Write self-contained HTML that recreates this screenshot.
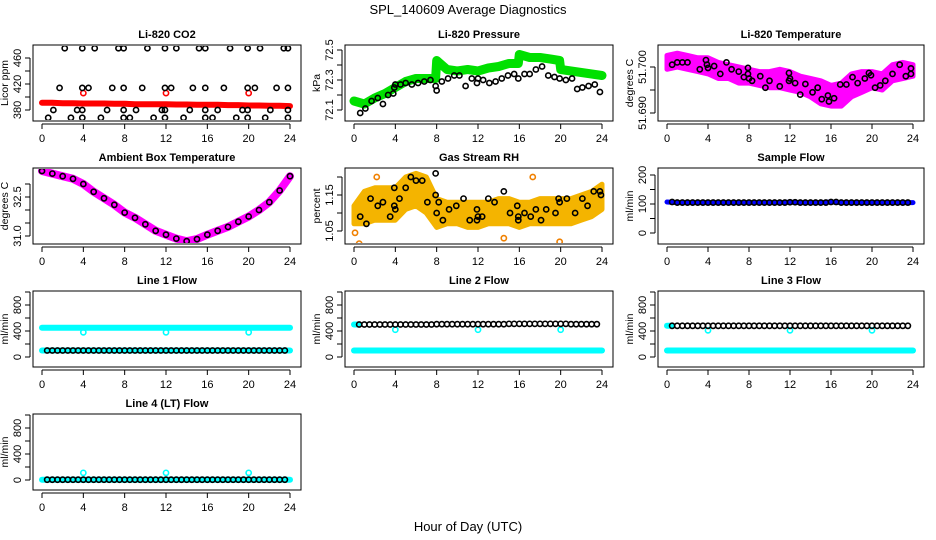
<!DOCTYPE html>
<html><head><meta charset="utf-8"><style>
html,body{margin:0;padding:0;background:#fff;}
svg{display:block;font-family:"Liberation Sans",sans-serif;}
</style></head><body>
<svg id="c" width="936" height="540" viewBox="0 0 936 540" xmlns="http://www.w3.org/2000/svg">
<text x="468" y="14" text-anchor="middle" font-size="13">SPL_140609  Average Diagnostics</text>
<text x="468" y="531" text-anchor="middle" font-size="13">Hour of Day (UTC)</text>
</svg>
<script>
// ---------- data ----------
const hourTicks = [0,4,8,12,16,20,24];
const hours = [0,1,2,3,4,5,6,7,8,9,10,11,12,13,14,15,16,17,18,19,20,21,22,23,24];
// CO2
const co2RedLine = [391,391,390.5,390.5,390,390,390,389.5,389.5,389,389,389,389,388.5,388.5,388,388,388,387.5,387.5,387,387,386.5,386.5,386];
const co2RedOutHours = [4,12,20];
const co2RedOutVals = [406,406,406];
const co2BlackHours = [2.2,3.9,5.1,7.4,7.9,10.2,11.9,13,15.2,15.8,18.2,19.9,21.1,23.4,23.8,
 1.7,3.9,4.5,6.8,7.9,9.7,11.9,12.5,14.6,15.8,17.6,19.9,20.6,22.7,23.8,
 1.1,3.4,3.9,6.3,7.9,9.1,11.6,11.9,14.3,15.8,17.0,19.4,19.9,22.1,23.8,
 0.6,2.8,3.9,5.7,7.9,8.5,10.8,11.9,13.7,15.8,16.5,18.8,19.9,21.6,23.8];
const co2BlackVals = [475,475,475,475,475,475,475,475,475,475,475,475,475,475,475,
 414,414,414,414,414,414,414,414,414,414,414,414,414,414,414,
 380,380,380,380,380,380,380,380,380,380,380,380,380,380,380,
 368,368,368,368,368,368,368,368,368,368,368,368,368,368,368];
// Pressure
const presGreenHours = [0,1,2,3,4,5,6,7,7.9,8,9,10,11,12,13,14,15,15.9,16,17,18,19,19.9,20,21,22,23,24];
const presGreenVals = [72.16,72.14,72.18,72.21,72.25,72.29,72.31,72.31,72.31,72.43,72.37,72.36,72.37,72.36,72.38,72.39,72.41,72.41,72.47,72.45,72.45,72.44,72.43,72.37,72.36,72.35,72.34,72.33];
const presBlackHours = [0.6,1.1,1.7,2.3,2.8,3.3,3.8,3.9,4.0,4.5,5.0,5.6,6.2,6.8,7.4,7.9,8.0,8.5,9.1,9.7,10.2,10.8,11.4,11.9,12.0,12.5,13.1,13.7,14.3,14.9,15.5,15.9,16.5,17.0,17.6,18.2,18.8,19.4,19.9,20.5,21.1,21.6,22.1,22.7,23.3,23.8];
const presBlackVals = [72.08,72.11,72.16,72.18,72.14,72.2,72.21,72.25,72.27,72.27,72.28,72.27,72.28,72.29,72.3,72.26,72.23,72.29,72.31,72.33,72.33,72.26,72.31,72.28,72.31,72.3,72.28,72.29,72.31,72.33,72.34,72.31,72.34,72.34,72.37,72.39,72.33,72.32,72.31,72.3,72.31,72.24,72.25,72.26,72.27,72.22];
// Li-820 temperature
const tempUpper = [51.7025,51.703,51.7025,51.702,51.702,51.701,51.7005,51.7,51.6995,51.699,51.699,51.6995,51.699,51.698,51.6975,51.697,51.696,51.6965,51.6985,51.699,51.699,51.6985,51.7005,51.701,51.7005];
const tempLower = [51.6995,51.7,51.6995,51.699,51.6985,51.6975,51.6975,51.6965,51.6965,51.696,51.6955,51.6955,51.695,51.6945,51.6935,51.692,51.6915,51.6915,51.6935,51.6945,51.6955,51.695,51.697,51.6975,51.698];
const tempBlackHours = [0.5,1,1.5,2,3.2,3.8,3.9,4.0,4.6,5.2,5.8,6.3,7.0,7.5,7.9,7.9,8.0,8.3,9.1,9.6,10.0,11.0,11.9,12.0,11.9,12.5,13.0,13.5,14.2,14.7,15.1,15.7,15.8,16.3,16.9,17.5,18.1,18.6,19.3,19.7,19.9,20.3,20.8,21.3,22.0,22.7,23.3,23.8,23.8];
const tempBlackVals = [51.7005,51.701,51.701,51.701,51.6995,51.7015,51.7005,51.6998,51.7002,51.6985,51.701,51.6995,51.699,51.6978,51.6985,51.6998,51.6975,51.697,51.698,51.6955,51.697,51.6958,51.6987,51.6975,51.697,51.6965,51.694,51.6963,51.6945,51.6955,51.693,51.6938,51.6925,51.6932,51.6962,51.6962,51.6978,51.6965,51.6975,51.6987,51.6982,51.6955,51.696,51.697,51.6985,51.7005,51.698,51.6997,51.6985];
// Ambient box temperature
const ambVals = [33.5,33.4,33.3,33.2,33.0,32.7,32.45,32.2,31.9,31.7,31.45,31.2,31.05,30.9,30.8,30.88,31.05,31.2,31.35,31.55,31.75,32.0,32.3,32.75,33.3];
// Gas stream RH
const rhUpper = [1.12,1.16,1.17,1.17,1.17,1.2,1.21,1.2,1.14,1.13,1.13,1.13,1.13,1.13,1.14,1.14,1.13,1.13,1.14,1.14,1.14,1.14,1.15,1.16,1.18];
const rhLower = [1.07,1.07,1.08,1.08,1.08,1.11,1.12,1.1,1.06,1.07,1.07,1.06,1.06,1.07,1.07,1.07,1.06,1.07,1.07,1.07,1.07,1.07,1.08,1.09,1.11];
const rhBlackHours = [0.6,1.2,1.6,2.3,2.8,3.5,3.9,3.9,4.0,4.4,5.0,5.5,6.0,6.6,7.1,7.9,7.9,8.0,8.2,8.6,9.2,9.9,10.6,11.2,11.9,11.9,12.0,12.4,13.0,13.6,14.5,15.1,15.8,15.9,15.9,16.5,17.1,17.6,18.1,18.6,19.5,19.8,19.9,20.6,21.4,22.1,22.6,23.2,23.8,23.9];
const rhBlackVals = [1.09,1.07,1.14,1.12,1.13,1.09,1.17,1.12,1.11,1.14,1.17,1.2,1.19,1.19,1.13,1.21,1.15,1.1,1.13,1.08,1.11,1.12,1.14,1.08,1.11,1.08,1.09,1.09,1.14,1.13,1.16,1.1,1.12,1.09,1.08,1.1,1.09,1.11,1.08,1.11,1.1,1.14,1.13,1.14,1.1,1.14,1.12,1.16,1.16,1.15];
const rhOutHours = [0.1,0.5,2.2,14.5,17.3,19.9];
const rhOutVals = [1.045,1.015,1.2,1.03,1.2,1.02];
// Flows
const sampleFlow = [107,105,105,105,105,105,105,105,105,105,105,105,106,105,105,105,107,105,105,105,105,105,105,105,105];
const line1Cyan = [450,450,450,450,450,450,450,450,450,450,450,450,450,450,450,450,450,450,450,450,450,450,450,450,450];
const line1Black = [100,100,100,100,100,100,100,100,100,100,100,100,100,100,100,100,100,100,100,100,100,100,100,100,100];
const line2Cyan = [100,100,100,100,100,100,100,100,100,100,100,100,100,100,100,100,100,100,100,100,100,100,100,100,100];
const line2Black = [500,500,500,500,500,500,500,500,505,505,505,505,505,505,505,510,510,510,510,510,510,505,505,505,505];
const line3Cyan = [100,100,100,100,100,100,100,100,100,100,100,100,100,100,100,100,100,100,100,100,100,100,100,100,100];
const line3Black = [480,480,480,480,480,480,480,480,480,480,480,480,480,480,480,480,480,480,480,480,480,480,480,480,480];
const line4Cyan = [5,5,5,5,5,5,5,5,5,5,5,5,5,5,5,5,5,5,5,5,5,5,5,5,5];
const line4Black = [5,5,5,5,5,5,5,5,5,5,5,5,5,5,5,5,5,5,5,5,5,5,5,5,5];
const flowOutHours = [4,12,20];
const line1Out = [380,380,380];
const line2Out = [420,420,420];
const line3Out = [410,410,410];
const line4Out = [110,110,110];

// ---------- drawing ----------
const NS = "http://www.w3.org/2000/svg";
const svg = document.getElementById('c');
const colL = [33,345,658], colR = [301,613,924];
const rowT = [45,168,291,414];
function el(tag, attrs, parent){
  const e = document.createElementNS(NS, tag);
  for (const k in attrs) e.setAttribute(k, attrs[k]);
  (parent||svg).appendChild(e);
  return e;
}
function panel(col,row,title,ylab,ymin,ymax,yBot,yTop,ticks,labels,name){
  const L=colL[col], R=colR[col], T=rowT[row], B=T+76;
  const g = el('g',{});
  
  
  const x0=L+9, x1=R-11;
  const sx = h => x0 + h/24*(x1-x0);
  const sy = v => yBot - (v-ymin)/(ymax-ymin)*(yBot-yTop);
  const box = el('rect',{x:L,y:T,width:R-L,height:B-T,fill:'none',stroke:'#000','stroke-width':1},g);
  
  
  const t = el('text',{x:(L+R)/2,y:T-7,'text-anchor':'middle','font-size':11,'font-weight':'bold'},g);
  t.textContent = title;
  
  
  // x axis
  const xa = el('g',{},g);
  
  
  el('line',{x1:sx(0),x2:sx(24),y1:B+3,y2:B+3,stroke:'#000'},xa);
  hourTicks.forEach(h=>{
    el('line',{x1:sx(h),x2:sx(h),y1:B+3,y2:B+8,stroke:'#000'},xa);
    const tl = el('text',{x:sx(h),y:B+21,'text-anchor':'middle','font-size':11},xa);
    tl.textContent = h;
  });
  // y axis
  const ya = el('g',{},g);
  
  
  el('line',{x1:L-3,x2:L-3,y1:sy(ticks[0]),y2:sy(ticks[ticks.length-1]),stroke:'#000'},ya);
  ticks.forEach(v=>{ el('line',{x1:L-3,x2:L-8,y1:sy(v),y2:sy(v),stroke:'#000'},ya); });
  labels.forEach(lb=>{
    const yy = sy(parseFloat(lb));
    const tl = el('text',{x:0,y:0,'text-anchor':'middle','font-size':11,transform:`translate(${L-12},${yy}) rotate(-90)`},ya);
    tl.textContent = lb;
  });
  const yl = el('text',{x:0,y:0,'text-anchor':'middle','font-size':10.5,transform:`translate(${L-25},${(T+B)/2}) rotate(-90)`},g);
  yl.textContent = ylab;
  
  
  const clipId = 'clip'+name;
  const cp = el('clipPath',{id:clipId},g);
  el('rect',{x:L+1,y:T+1,width:R-L-2,height:B-T-2},cp);
  const plot = el('g',{'clip-path':`url(#${clipId})`},g);
  
  
  return {sx,sy,plot};
}
function pts(p,hs,vs,color,name,r,sw){
  const g = el('g',{},p.plot);
  
  
  hs.forEach((h,i)=>{
    el('circle',{cx:p.sx(h),cy:p.sy(vs[i]),r:r||2.6,fill:'none',stroke:color,'stroke-width':sw||1.6},g);
  });
}
function line(p,hs,vs,color,w,name){
  const d = hs.map((h,i)=>(i?'L':'M')+p.sx(h).toFixed(1)+','+p.sy(vs[i]).toFixed(1)).join('');
  const l = el('path',{d,fill:'none',stroke:color,'stroke-width':w,'stroke-linejoin':'round','stroke-linecap':'round'},p.plot);
  
  
}
function band(p,up,lo,color,name){
  let d = hours.map((h,i)=>(i?'L':'M')+p.sx(h).toFixed(1)+','+p.sy(up[i]).toFixed(1)).join('');
  for(let i=hours.length-1;i>=0;i--) d+='L'+p.sx(hours[i]).toFixed(1)+','+p.sy(lo[i]).toFixed(1);
  const b = el('path',{d:d+'Z',fill:color,stroke:color,'stroke-width':5,'stroke-linejoin':'round'},p.plot);
  
  
}
function blackRow(p,vs,name){
  const hs=[], v2=[];
  for(let h=0.5; h<=23.9; h+=0.5){ const i=Math.floor(h); hs.push(h); v2.push(vs[Math.min(i,24)]); }
  pts(p,hs,v2,'#000',name,2.6,1.6);
}

// Panel 1: CO2
let p = panel(0,0,'Li-820 CO2','Licor ppm',380,460,110,58,[380,400,420,440,460],['380','420','460'],'co2');
line(p,hours,co2RedLine,'#ff0000',6,'co2-red-series');
pts(p,co2RedOutHours,co2RedOutVals,'#ff0000','co2-red-outliers');
pts(p,co2BlackHours,co2BlackVals,'#000','co2-black-series');
// Panel 2: Pressure
p = panel(1,0,'Li-820 Pressure','kPa',72.1,72.5,110,50,[72.1,72.2,72.3,72.4,72.5],['72.1','72.3','72.5'],'pressure');
line(p,presGreenHours,presGreenVals,'#00e000',9,'pressure-green-series');
pts(p,presBlackHours,presBlackVals,'#000','pressure-black-series');
// Panel 3: Li-820 temperature
p = panel(2,0,'Li-820 Temperature','degrees C',51.690,51.700,113,67,[51.690,51.695,51.700],['51.690','51.700'],'li820-temp');
band(p,tempUpper,tempLower,'#ff00ff','li820-temp-magenta-cloud');
pts(p,tempBlackHours,tempBlackVals,'#000','li820-temp-black-series');
// Panel 4: ambient
p = panel(0,1,'Ambient Box Temperature','degrees C',31,32.5,236,197,[31,31.5,32,32.5,33],['31.0','32.5'],'ambient');
line(p,hours,ambVals,'#ff00ff',8,'ambient-magenta-series');
pts(p,hours,ambVals,'#000','ambient-black-series');
// Panel 5: RH
p = panel(1,1,'Gas Stream RH','percent',1.05,1.15,231,195,[1.05,1.10,1.15,1.20],['1.05','1.15'],'rh');
band(p,rhUpper,rhLower,'#f4b400','rh-yellow-cloud');
pts(p,rhOutHours,rhOutVals,'#f08000','rh-outliers');
pts(p,rhBlackHours,rhBlackVals,'#000','rh-black-series');
// Panel 6: sample flow
p = panel(2,1,'Sample Flow','ml/min',0,200,233,175,[0,50,100,150,200],['0','100','200'],'sample-flow');
line(p,hours,sampleFlow,'#0000ff',5,'sample-flow-blue-series');
blackRow(p,sampleFlow,'sample-flow-black-series');
// Flow panels
const fT=[0,200,400,600,800,1000], fL=['0','400','800'];
p = panel(0,2,'Line 1 Flow','ml/min',0,400,357,331,fT,fL,'line1');
line(p,hours,line1Cyan,'#00ffff',6,'line1-cyan-series');
line(p,hours,line1Black,'#00ffff',6,'line1-cyan-low-series');
pts(p,flowOutHours,line1Out,'#00ffff','line1-cyan-outliers');
blackRow(p,line1Black,'line1-black-series');
p = panel(1,2,'Line 2 Flow','ml/min',0,400,357,331,fT,fL,'line2');
line(p,hours,line2Cyan,'#00ffff',6,'line2-cyan-series');
line(p,[0,0.4],[line2Black[0],line2Black[0]],'#00ffff',6,'line2-cyan-start');
pts(p,flowOutHours,line2Out,'#00ffff','line2-cyan-outliers');
blackRow(p,line2Black,'line2-black-series');
p = panel(2,2,'Line 3 Flow','ml/min',0,400,357,331,fT,fL,'line3');
line(p,hours,line3Cyan,'#00ffff',6,'line3-cyan-series');
line(p,[0,0.4],[line3Black[0],line3Black[0]],'#00ffff',6,'line3-cyan-start');
pts(p,flowOutHours,line3Out,'#00ffff','line3-cyan-outliers');
blackRow(p,line3Black,'line3-black-series');
p = panel(0,3,'Line 4 (LT) Flow','ml/min',0,400,480,454,fT,fL,'line4');
line(p,hours,line4Cyan,'#00ffff',6,'line4-cyan-series');
pts(p,flowOutHours,line4Out,'#00ffff','line4-cyan-outliers');
blackRow(p,line4Black,'line4-black-series');
</script>
</body></html>
